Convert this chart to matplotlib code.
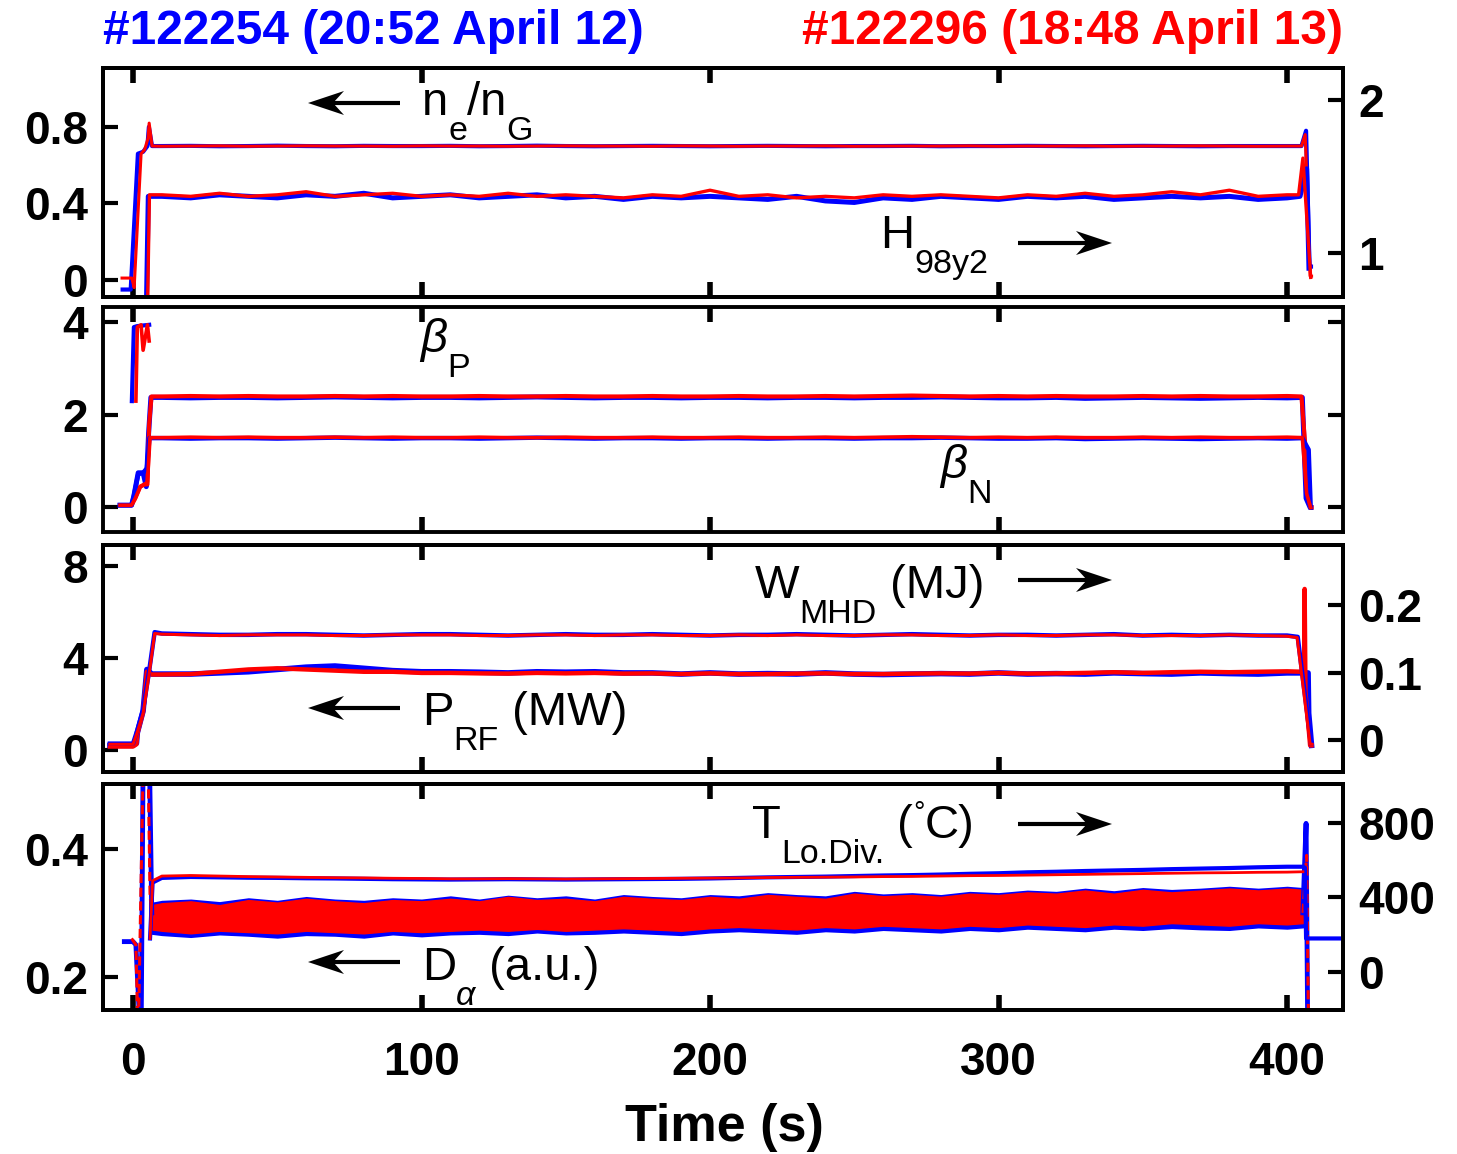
import numpy as np
import matplotlib.pyplot as plt

plt.rcParams['font.family'] = 'Liberation Sans'
plt.rcParams['font.weight'] = 'bold'

BLUE = '#0000ff'
RED = '#ff0000'

# ---- data ----
t_flat = list(range(10, 401, 10))   # flat-top sample times (s)

# n_e/n_G (left axis, panel 1)
ne_rise_t_b = [-3.6, -0.8, 1.7, 3.5, 5.0, 5.5, 6.6]
ne_rise_b = [-0.05, -0.05, 0.66, 0.67, 0.70, 0.80, 0.70]
ne_rise_t_r = [-3.8, -0.4, 0.4, 2.8, 4.0, 5.2, 5.6, 6.6]
ne_rise_r = [0.01, 0.01, -0.04, 0.66, 0.68, 0.74, 0.82, 0.70]
ne_flat_b = [
    0.700, 0.701, 0.699, 0.700, 0.702, 0.700, 0.699, 0.701, 0.700, 0.700,
    0.701, 0.699, 0.700, 0.702, 0.700, 0.699, 0.700, 0.701, 0.700, 0.699,
    0.700, 0.701, 0.700, 0.699, 0.700, 0.700, 0.701, 0.699, 0.700, 0.700,
    0.701, 0.700, 0.699, 0.700, 0.701, 0.700, 0.699, 0.700, 0.700, 0.700]
ne_flat_r = [
    0.699, 0.700, 0.701, 0.699, 0.700, 0.701, 0.700, 0.700, 0.699, 0.701,
    0.700, 0.700, 0.699, 0.700, 0.701, 0.700, 0.700, 0.699, 0.701, 0.700,
    0.699, 0.700, 0.700, 0.701, 0.699, 0.700, 0.700, 0.700, 0.701, 0.699,
    0.700, 0.700, 0.701, 0.699, 0.700, 0.700, 0.701, 0.700, 0.699, 0.700]
ne_fall_t_b = [405.0, 406.6, 407.8, 408.3]
ne_fall_b = [0.70, 0.78, 0.07, 0.07]
ne_fall_t_r = [405.0, 406.3, 408.0, 408.5]
ne_fall_r = [0.70, 0.76, 0.02, 0.02]

# H98y2 (right axis, panel 1)
h98_rise_t_b = [4.6, 5.3, 6.5]
h98_rise_b = [0.60, 1.37, 1.37]
h98_rise_t_r = [5.0, 5.7, 6.8]
h98_rise_r = [0.60, 1.38, 1.38]
h98_flat_b = [
    1.37, 1.36, 1.38, 1.37, 1.36, 1.38, 1.37, 1.39, 1.36, 1.37,
    1.38, 1.36, 1.37, 1.38, 1.36, 1.37, 1.35, 1.37, 1.36, 1.37,
    1.36, 1.35, 1.37, 1.34, 1.33, 1.36, 1.35, 1.37, 1.36, 1.35,
    1.37, 1.36, 1.37, 1.35, 1.36, 1.37, 1.36, 1.37, 1.35, 1.36]
h98_flat_r = [
    1.38, 1.37, 1.39, 1.37, 1.38, 1.40, 1.37, 1.38, 1.39, 1.37,
    1.38, 1.37, 1.39, 1.37, 1.38, 1.37, 1.36, 1.38, 1.37, 1.41,
    1.37, 1.38, 1.36, 1.37, 1.36, 1.38, 1.37, 1.38, 1.37, 1.36,
    1.38, 1.37, 1.39, 1.37, 1.38, 1.40, 1.38, 1.41, 1.37, 1.38]
h98_fall_t_b = [404.5, 406.8, 407.6]
h98_fall_b = [1.37, 1.55, 0.90]
h98_fall_t_r = [404.0, 405.5, 408.2]
h98_fall_r = [1.38, 1.62, 0.84]

# beta_P and beta_N (panel 2)
bp_rise_t_b = [-4.5, -0.5, 0.3, 1.8, 3.5, 4.6, 5.4, 6.2]
bp_rise_b = [0.05, 0.05, 0.25, 0.75, 0.75, 0.45, 1.6, 2.38]
bp_rise_t_r = [-4.5, -0.5, 0.8, 2.5, 4.0, 5.0, 5.6, 6.4]
bp_rise_r = [0.05, 0.05, 0.20, 0.45, 0.50, 0.50, 1.8, 2.40]
bp_spike_t_b = [-0.4, 0.3, 1.3, 5.6]
bp_spike_b = [2.3, 3.9, 3.92, 3.95]
bp_spike_t_r = [1.0, 1.5, 2.8, 3.5, 5.0, 5.6]
bp_spike_r = [2.3, 3.9, 3.95, 3.4, 3.95, 3.6]
bp_flat_b = [
    2.38, 2.37, 2.38, 2.38, 2.37, 2.38, 2.39, 2.38, 2.37, 2.38,
    2.38, 2.37, 2.38, 2.39, 2.38, 2.37, 2.38, 2.38, 2.37, 2.38,
    2.38, 2.37, 2.38, 2.38, 2.37, 2.38, 2.38, 2.39, 2.38, 2.37,
    2.37, 2.38, 2.36, 2.37, 2.38, 2.37, 2.36, 2.37, 2.38, 2.37]
bp_flat_r = [
    2.40, 2.41, 2.40, 2.41, 2.40, 2.40, 2.41, 2.40, 2.41, 2.40,
    2.40, 2.41, 2.40, 2.40, 2.41, 2.40, 2.40, 2.41, 2.40, 2.40,
    2.41, 2.40, 2.40, 2.41, 2.40, 2.41, 2.42, 2.41, 2.40, 2.41,
    2.40, 2.41, 2.40, 2.40, 2.41, 2.40, 2.41, 2.40, 2.40, 2.41]
bp_fall_t_b = [405.3, 406.6, 408.0, 408.3]
bp_fall_b = [2.38, 0.20, 0.00, 0.00]
bp_fall_t_r = [405.0, 408.0, 408.5]
bp_fall_r = [2.40, 0.00, 0.00]

bn_rise_t_b = [-4.5, -0.5, 0.3, 1.8, 3.5, 4.8, 5.7]
bn_rise_b = [0.05, 0.05, 0.25, 0.72, 0.75, 0.85, 1.50]
bn_rise_t_r = [-4.5, -0.5, 0.8, 2.5, 4.0, 5.0, 5.9]
bn_rise_r = [0.05, 0.05, 0.20, 0.45, 0.50, 0.55, 1.51]
bn_flat_b = [
    1.50, 1.49, 1.50, 1.50, 1.49, 1.50, 1.51, 1.50, 1.49, 1.50,
    1.50, 1.49, 1.50, 1.51, 1.50, 1.49, 1.50, 1.50, 1.49, 1.50,
    1.50, 1.49, 1.50, 1.50, 1.49, 1.50, 1.50, 1.51, 1.50, 1.49,
    1.49, 1.50, 1.48, 1.49, 1.50, 1.49, 1.48, 1.49, 1.50, 1.49]
bn_flat_r = [
    1.51, 1.52, 1.51, 1.52, 1.51, 1.51, 1.52, 1.51, 1.52, 1.51,
    1.51, 1.52, 1.51, 1.51, 1.52, 1.51, 1.51, 1.52, 1.51, 1.51,
    1.52, 1.51, 1.51, 1.52, 1.51, 1.52, 1.53, 1.52, 1.51, 1.52,
    1.51, 1.52, 1.51, 1.51, 1.52, 1.51, 1.52, 1.51, 1.51, 1.52]
bn_fall_t_b = [405.3, 407.5, 408.2]
bn_fall_b = [1.50, 1.25, 0.00]
bn_fall_t_r = [405.3, 406.8, 408.2]
bn_fall_r = [1.51, 0.30, 0.00]

# P_RF (left) and W_MHD (right), panel 3
prf_rise_t = [-8.0, 0.0, 1.2, 1.5, 3.5, 4.8, 6.5]
prf_rise_b = [0.20, 0.20, 0.30, 0.75, 1.70, 3.50, 3.30]
prf_rise_r = [0.15, 0.15, 0.25, 0.70, 1.65, 3.40, 3.28]
prf_flat_b = [
    3.30, 3.30, 3.35, 3.40, 3.50, 3.60, 3.65, 3.55, 3.45, 3.40,
    3.40, 3.38, 3.35, 3.40, 3.38, 3.40, 3.35, 3.35, 3.30, 3.35,
    3.30, 3.32, 3.30, 3.35, 3.30, 3.28, 3.30, 3.32, 3.30, 3.35,
    3.30, 3.32, 3.30, 3.35, 3.32, 3.30, 3.35, 3.32, 3.30, 3.35]
prf_flat_r = [
    3.28, 3.30, 3.40, 3.50, 3.55, 3.50, 3.45, 3.40, 3.40, 3.35,
    3.35, 3.33, 3.32, 3.35, 3.33, 3.35, 3.32, 3.33, 3.30, 3.33,
    3.30, 3.30, 3.32, 3.33, 3.30, 3.30, 3.32, 3.33, 3.32, 3.35,
    3.32, 3.33, 3.35, 3.38, 3.35, 3.38, 3.40, 3.38, 3.40, 3.42]
prf_fall_t_b = [405.5, 407.3, 407.5, 408.5]
prf_fall_b = [3.35, 3.35, 1.60, 0.20]
prf_fall_t_r = [405.5, 405.9, 406.1, 406.4, 408.0, 408.5]
prf_fall_r = [3.40, 3.40, 7.00, 2.50, 0.20, 0.20]

w_rise_t = [-8.0, 0.0, 1.5, 3.5, 5.5, 7.5]
w_rise_b = [-0.005, -0.005, 0.015, 0.045, 0.10, 0.160]
w_rise_r = [-0.006, -0.006, 0.012, 0.040, 0.095, 0.158]
w_flat_b = [
    0.158, 0.157, 0.156, 0.156, 0.157, 0.157, 0.156, 0.155, 0.156, 0.157,
    0.157, 0.156, 0.155, 0.156, 0.157, 0.156, 0.156, 0.157, 0.156, 0.155,
    0.156, 0.156, 0.157, 0.156, 0.155, 0.156, 0.157, 0.156, 0.155, 0.156,
    0.156, 0.155, 0.156, 0.157, 0.155, 0.156, 0.155, 0.156, 0.155, 0.155]
w_flat_r = [
    0.157, 0.156, 0.155, 0.156, 0.156, 0.156, 0.155, 0.155, 0.156, 0.156,
    0.156, 0.155, 0.155, 0.156, 0.156, 0.155, 0.156, 0.156, 0.155, 0.155,
    0.156, 0.155, 0.156, 0.155, 0.155, 0.156, 0.156, 0.155, 0.155, 0.156,
    0.155, 0.155, 0.156, 0.156, 0.155, 0.155, 0.155, 0.156, 0.155, 0.154]
w_fall_t_b = [403.7, 408.3]
w_fall_b = [0.153, -0.005]
w_fall_t_r = [403.5, 408.0, 408.6]
w_fall_r = [0.152, -0.006, -0.006]

# D_alpha band envelope (left) and lower-divertor temperature (right), panel 4
da_t = [6.5] + t_flat + [405.5]
da_hi_r = [0.312,
    0.315, 0.318, 0.312, 0.320, 0.316, 0.322, 0.318, 0.315, 0.320, 0.318,
    0.322, 0.318, 0.325, 0.320, 0.322, 0.318, 0.325, 0.322, 0.320, 0.325,
    0.322, 0.328, 0.325, 0.322, 0.330, 0.326, 0.328, 0.325, 0.330, 0.328,
    0.332, 0.330, 0.335, 0.330, 0.336, 0.332, 0.335, 0.338, 0.335, 0.338,
    0.336]
da_lo_r = [0.274,
    0.272, 0.268, 0.272, 0.270, 0.268, 0.272, 0.270, 0.268, 0.272, 0.270,
    0.272, 0.274, 0.272, 0.275, 0.272, 0.274, 0.276, 0.274, 0.272, 0.276,
    0.278, 0.276, 0.274, 0.278, 0.276, 0.280, 0.278, 0.276, 0.280, 0.278,
    0.282, 0.280, 0.278, 0.282, 0.280, 0.284, 0.282, 0.280, 0.284, 0.282,
    0.284]
da_hi_b = [0.315,
    0.318, 0.320, 0.316, 0.322, 0.318, 0.324, 0.320, 0.318, 0.322, 0.320,
    0.325, 0.320, 0.326, 0.322, 0.325, 0.320, 0.327, 0.324, 0.322, 0.327,
    0.325, 0.330, 0.327, 0.325, 0.332, 0.328, 0.330, 0.327, 0.332, 0.330,
    0.334, 0.332, 0.337, 0.333, 0.338, 0.335, 0.337, 0.340, 0.337, 0.340,
    0.338]
da_lo_b = [0.268,
    0.266, 0.263, 0.267, 0.265, 0.262, 0.266, 0.265, 0.262, 0.267, 0.264,
    0.267, 0.268, 0.266, 0.270, 0.267, 0.268, 0.270, 0.268, 0.266, 0.270,
    0.272, 0.270, 0.268, 0.272, 0.270, 0.274, 0.272, 0.270, 0.274, 0.272,
    0.276, 0.274, 0.272, 0.276, 0.274, 0.277, 0.275, 0.274, 0.278, 0.276,
    0.278]
da_start_t_b = [-3.0, 0.0, 1.0, 2.2, 2.8, 3.6, 5.5, 6.5]
da_start_b = [0.255, 0.255, 0.25, 0.14, 0.10, 0.60, 0.60, 0.30]
da_start_t_r = [-0.5, 1.0, 1.8, 3.8, 5.0, 5.9, 6.5]
da_start_r = [0.26, 0.25, 0.10, 0.60, 0.60, 0.33, 0.29]
da_end_t_b = [405.5, 406.6, 407.2, 408.0]
da_end_b = [0.30, 0.44, 0.10, 0.10]
da_end_t_r = [405.5, 406.8, 407.5, 408.3]
da_end_r = [0.30, 0.39, 0.10, 0.10]

T_rise_t = [5.9, 6.8]
T_rise_b = [180, 480]
T_rise_r = [180, 490]
T_flat_b = [
    505, 510, 508, 506, 505, 503, 502, 500, 498, 497,
    496, 497, 498, 497, 496, 497, 498, 499, 500, 502,
    505, 508, 510, 512, 515, 518, 520, 523, 527, 530,
    535, 538, 542, 545, 548, 552, 555, 558, 562, 565]
T_flat_r = [
    515, 518, 515, 512, 510, 508, 506, 505, 503, 502,
    500, 500, 501, 500, 499, 500, 501, 502, 503, 504,
    505, 507, 508, 509, 510, 512, 513, 515, 517, 518,
    520, 522, 524, 526, 528, 530, 532, 533, 535, 536]
T_fall_t_b = [405.5, 406.2, 406.6, 408.5, 419.5]
T_fall_b = [565, 560, 180, 180, 180]
T_fall_t_r = [405.5]
T_fall_r = [538]

x_ticks = [0, 100, 200, 300, 400]
p1_left_ticks, p1_left_labels = [0, 0.4, 0.8], ['0', '0.4', '0.8']
p1_right_ticks, p1_right_labels = [1, 2], ['1', '2']
p2_ticks, p2_labels = [0, 2, 4], ['0', '2', '4']
p3_left_ticks, p3_left_labels = [0, 4, 8], ['0', '4', '8']
p3_right_ticks, p3_right_labels = [0, 0.1, 0.2], ['0', '0.1', '0.2']
p4_left_ticks, p4_left_labels = [0.2, 0.4], ['0.2', '0.4']
p4_right_ticks, p4_right_labels = [0, 400, 800], ['0', '400', '800']


def trace(rise_t, rise_v, flat_v, fall_t, fall_v):
    t = np.concatenate([rise_t, t_flat, fall_t])
    v = np.concatenate([rise_v, flat_v, fall_v])
    return t, v


# ---- figure layout (pixel geometry of the original) ----
W, H = 1457, 1154
fig = plt.figure(figsize=(W / 100, H / 100), dpi=100)
LEFT, RIGHT = 103, 1343
TICK_FS = 33


def add_panel(top, bottom):
    return fig.add_axes([LEFT / W, 1 - bottom / H, (RIGHT - LEFT) / W, (bottom - top) / H])


def style(ax, xlabels=False):
    ax.set_xlim(-10.4, 419.4)
    ax.set_xticks(x_ticks)
    ax.tick_params(axis='x', direction='in', top=True, bottom=True, length=11, width=4,
                   labelbottom=xlabels, labelsize=TICK_FS, pad=22)
    ax.tick_params(axis='y', direction='in', length=11, width=3, labelsize=TICK_FS, pad=11)
    for s in ax.spines.values():
        s.set_linewidth(2.8)


def style_right(axr):
    axr.tick_params(axis='y', direction='in', length=11, width=3, labelsize=TICK_FS, pad=11)
    for s in axr.spines.values():
        s.set_linewidth(2.8)


ax1 = add_panel(68, 297)
ax2 = add_panel(307, 532)
ax3 = add_panel(545, 772)
ax4 = add_panel(784, 1010)
for ax in (ax1, ax2, ax3):
    style(ax)
style(ax4, xlabels=True)
ax4.set_xticklabels([str(v) for v in x_ticks])

# panel 1
ax1r = ax1.twinx()
style_right(ax1r)
ax1.set_ylim(-0.089, 1.108)
ax1.set_yticks(p1_left_ticks, p1_left_labels)
ax1r.set_ylim(0.712, 2.209)
ax1r.set_yticks(p1_right_ticks, p1_right_labels)
ax1.plot(*trace(ne_rise_t_b, ne_rise_b, ne_flat_b, ne_fall_t_b, ne_fall_b), color=BLUE, lw=3.0)
ax1.plot(*trace(ne_rise_t_r, ne_rise_r, ne_flat_r, ne_fall_t_r, ne_fall_r), color=RED, lw=2.2)
ax1r.plot(*trace(h98_rise_t_b, h98_rise_b, h98_flat_b, h98_fall_t_b, h98_fall_b), color=BLUE, lw=3.6)
ax1r.plot(*trace(h98_rise_t_r, h98_rise_r, h98_flat_r, h98_fall_t_r, h98_fall_r), color=RED, lw=2.4)

# panel 2
ax2.set_ylim(-0.53, 4.335)
ax2.set_yticks(p2_ticks, p2_labels)
ax2.tick_params(axis='y', right=True, labelright=False)
ax2.plot(*trace(bp_rise_t_b, bp_rise_b, bp_flat_b, bp_fall_t_b, bp_fall_b), color=BLUE, lw=3.6)
ax2.plot(*trace(bp_rise_t_r, bp_rise_r, bp_flat_r, bp_fall_t_r, bp_fall_r), color=RED, lw=3.0)
ax2.plot(*trace(bn_rise_t_b, bn_rise_b, bn_flat_b, bn_fall_t_b, bn_fall_b), color=BLUE, lw=3.2)
ax2.plot(*trace(bn_rise_t_r, bn_rise_r, bn_flat_r, bn_fall_t_r, bn_fall_r), color=RED, lw=2.6)
ax2.plot(bp_spike_t_b, bp_spike_b, color=BLUE, lw=3.0)
ax2.plot(bp_spike_t_r, bp_spike_r, color=RED, lw=2.6)

# panel 3
ax3r = ax3.twinx()
style_right(ax3r)
ax3.set_ylim(-0.957, 8.91)
ax3.set_yticks(p3_left_ticks, p3_left_labels)
ax3r.set_ylim(-0.047, 0.289)
ax3r.set_yticks(p3_right_ticks, p3_right_labels)
ax3.plot(*trace(prf_rise_t, prf_rise_b, prf_flat_b, prf_fall_t_b, prf_fall_b), color=BLUE, lw=4.0)
ax3.plot(*trace(prf_rise_t, prf_rise_r, prf_flat_r, prf_fall_t_r, prf_fall_r), color=RED, lw=3.2)
ax3r.plot(*trace(w_rise_t, w_rise_b, w_flat_b, w_fall_t_b, w_fall_b), color=BLUE, lw=3.2)
ax3r.plot(*trace(w_rise_t, w_rise_r, w_flat_r, w_fall_t_r, w_fall_r), color=RED, lw=2.2)

# panel 4
ax4r = ax4.twinx()
style_right(ax4r)
ax4.set_ylim(0.148, 0.5016)
ax4.set_yticks(p4_left_ticks, p4_left_labels)
ax4r.set_ylim(-204, 1009)
ax4r.set_yticks(p4_right_ticks, p4_right_labels)
ax4.fill_between(da_t, da_lo_b, da_hi_b, facecolor=BLUE, edgecolor=BLUE, lw=1.5)
ax4.fill_between(da_t, da_lo_r, da_hi_r, facecolor=RED, edgecolor=RED, lw=1.0)
ax4.plot(da_start_t_b, da_start_b, color=BLUE, lw=3.5)
ax4.plot(da_start_t_r, da_start_r, color=RED, lw=2.2, ls=(0, (3, 1.5)))
ax4.plot(da_end_t_b, da_end_b, color=BLUE, lw=3.5)
ax4.plot(da_end_t_r, da_end_r, color=RED, lw=2.2, ls=(0, (3, 1.5)))
ax4r.plot(*trace(T_rise_t, T_rise_b, T_flat_b, T_fall_t_b, T_fall_b), color=BLUE, lw=3.0)
ax4r.plot(*trace(T_rise_t, T_rise_r, T_flat_r, T_fall_t_r, T_fall_r), color=RED, lw=2.0)

# ---- overlay for titles, labels and arrows (pixel coordinates, origin top-left) ----
ov = fig.add_axes([0, 0, 1, 1])
ov.set_xlim(0, W)
ov.set_ylim(H, 0)
ov.axis('off')
ov.patch.set_alpha(0)

ov.text(103, 32, '#122254 (20:52 April 12)', color=BLUE, fontsize=34.5, fontweight='bold',
        ha='left', va='center')
ov.text(1343, 32, '#122296 (18:48 April 13)', color=RED, fontsize=34.5, fontweight='bold',
        ha='right', va='center')
ov.text(724, 1127, 'Time (s)', fontsize=37.5, fontweight='bold', ha='center', va='center')


def arrow(x_tail, x_tip, y):
    d = 1 if x_tip > x_tail else -1
    ov.plot([x_tail, x_tip - d * 24], [y, y], color='k', lw=3, solid_capstyle='butt')
    ov.fill([x_tip, x_tip - d * 36, x_tip - d * 25, x_tip - d * 36],
            [y, y - 12, y, y + 12], color='k', lw=0)


renderer = fig.canvas.get_renderer()


def label(x, y, parts, size=34):
    for s, kind in parts:
        fs, dy, style_ = size, 0, 'normal'
        if kind in ('sub', 'subi'):
            fs, dy = size * 0.72, 25
        if kind == 'sup':
            fs, dy = size * 0.6, -17
        if kind in ('mi', 'subi'):
            style_ = 'italic'
        t = ov.text(x, y + dy, s, fontsize=fs, fontweight='normal', style=style_,
                    ha='left', va='baseline')
        x += t.get_window_extent(renderer).width


arrow(400, 308, 103)
label(422, 115, [('n', 'm'), ('e', 'sub'), ('/n', 'm'), ('G', 'sub')])
arrow(1018, 1112, 243)
label(880, 248, [('H', 'm'), ('98y2', 'sub')])
label(420, 352, [('\u03b2', 'mi'), ('P', 'sub')])
label(940, 478, [('\u03b2', 'mi'), ('N', 'sub')])
arrow(1018, 1112, 580)
label(755, 598, [('W', 'm'), ('MHD', 'sub'), (' (MJ)', 'm')])
arrow(400, 308, 708)
label(422, 725, [('P', 'm'), ('RF', 'sub'), (' (MW)', 'm')])
arrow(1018, 1112, 824)
label(752, 838, [('T', 'm'), ('Lo.Div.', 'sub'), (' (', 'm'), ('\u00b0', 'sup'), ('C)', 'm')])
arrow(400, 308, 962)
label(422, 980, [('D', 'm'), ('\u03b1', 'subi'), (' (a.u.)', 'm')])

fig.savefig('out.png', dpi=100)
